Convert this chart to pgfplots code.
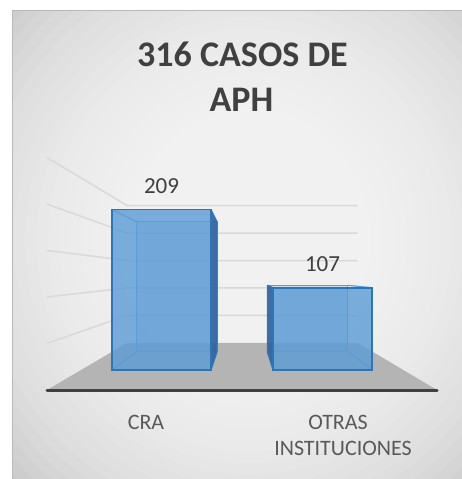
\documentclass[border=0pt]{standalone}
\usepackage{pgfplots}
\pgfplotsset{compat=1.18}
\usepackage{pgfplotstable}
\usepackage{fontspec}
\setmainfont{Carlito}
\definecolor{titlegray}{RGB}{64,64,64}
\definecolor{labgray}{RGB}{89,89,89}
\definecolor{barfill}{RGB}{91,155,213}
\definecolor{baredge}{RGB}{46,117,182}
\definecolor{barside}{RGB}{47,96,156}
\definecolor{backedge}{RGB}{95,158,218}
\definecolor{floorgray}{RGB}{180,180,180}
\definecolor{gridgray}{RGB}{217,217,217}
\definecolor{edgedark}{RGB}{64,64,64}
\definecolor{framegray}{RGB}{185,185,185}
\definecolor{bgbase}{RGB}{196,196,196}

% data: x = bar centre (front plane), v = value
\pgfplotstableread{
x v
161.5 209
322.5 107
}\bars
\pgfplotstablegetelem{0}{v}\of\bars \let\va\pgfplotsretval
\pgfplotstablegetelem{1}{v}\of\bars \let\vb\pgfplotsretval

% perspective plane: depth scale #1
\pgfplotsset{
  plane/.code={%
    \pgfmathsetmacro\pS{#1}%
    \pgfmathsetmacro\pXa{243-243/\pS}%
    \pgfmathsetmacro\pXb{243+219/\pS}%
    \pgfmathsetmacro\pYa{123.6-204/(0.766*\pS)}%
    \pgfmathsetmacro\pYb{123.6+275/(0.766*\pS)}%
    \pgfmathsetmacro\pUy{0.766*\pS}%
    \edef\pTmp{\noexpand\pgfplotsset{x=\pS bp,y=\pUy bp,xmin=\pXa,xmax=\pXb,ymin=\pYa,ymax=\pYb}}%
    \pTmp
  },
  planeaxis/.style={hide axis, enlargelimits=false, at={(0,0)}, anchor=south west, clip=false, plane=#1},
}

\begin{document}
\begin{tikzpicture}[x=1bp,y=1bp]
\useasboundingbox (0,0) rectangle (462,479);
\begin{scope}[x=1bp,y=-1bp,yshift=479bp]
  \begin{scope}
    \clip (12,10) rectangle (462,479);
    \fill[bgbase] (12,10) rectangle (462,479);
    \foreach \r in {0,...,19}{
      \fill[white, opacity=0.09] (250,240) ellipse ({340-11.5*\r} and {350-11.5*\r});
    }
  \end{scope}
  \draw[framegray, line width=1.5bp] (12.5,479) -- (12.5,10.5) -- (462,10.5);
  % walls
  \foreach \v in {50,100,...,250}{
    \draw[gridgray, line width=1.5bp] (47,{275+0.929*(123.6-\v)}) -- (127.3,{275+0.5486*(123.6-\v)}) -- (357.5,{275+0.5486*(123.6-\v)});
  }
  % floor
  \fill[floorgray] (47,390) -- (127.3,342.8) -- (357.5,342.8) -- (437,390) -- cycle;
  \draw[edgedark, line width=3bp, line cap=round] (47,390.5) -- (437,390.5);
  % title and labels
  \node[font=\bfseries\fontsize{36bp}{45bp}\selectfont, text=titlegray, anchor=base] at (242.5,66.7) {316 CASOS DE};
  \node[font=\bfseries\fontsize{36bp}{45bp}\selectfont, text=titlegray, anchor=base] at (241.5,111.7) {APH};
  \node[font=\fontsize{22bp}{26bp}\selectfont, text=labgray, anchor=base] at (146,430) {CRA};
  \node[font=\fontsize{22bp}{26bp}\selectfont, text=labgray, anchor=base] at (338,430) {OTRAS};
  \node[font=\fontsize{22bp}{26bp}\selectfont, text=labgray, anchor=base] at (343,456) {INSTITUCIONES};
\end{scope}

% back faces of the bars
\begin{axis}[planeaxis=0.812]
  \addplot[ybar, bar width=99, bar shift=0pt, draw=backedge, line width=1.2bp, fill=barfill, fill opacity=0.25] table[x=x,y=v]{\bars};
  \coordinate (b1tl) at (axis cs:112,\va);
  \coordinate (b1bl) at (axis cs:112,0);
  \coordinate (b1tr) at (axis cs:211,\va);
  \coordinate (b1br) at (axis cs:211,0);
  \coordinate (b2tl) at (axis cs:273,\vb);
  \coordinate (b2bl) at (axis cs:273,0);
  \coordinate (b2tr) at (axis cs:372,\vb);
  \coordinate (b2br) at (axis cs:372,0);
\end{axis}

% front faces
\begin{axis}[planeaxis=1]
  \fill[barside, fill opacity=0.9] (axis cs:211,0) -- (axis cs:211,\va) -- (b1tr) -- (b1br) -- cycle;
  \fill[barside, fill opacity=0.9] (axis cs:273,0) -- (axis cs:273,\vb) -- (b2tl) -- (b2bl) -- cycle;
  \draw[backedge, line width=1.2bp] (axis cs:112,\va) -- (b1tl) (axis cs:112,0) -- (b1bl)
      (axis cs:372,\vb) -- (b2tr) (axis cs:372,0) -- (b2br);
  \draw[baredge, line width=1.2bp, line join=round] (axis cs:211,0) -- (axis cs:211,\va) -- (b1tr) -- (b1br) -- cycle
      (axis cs:273,0) -- (axis cs:273,\vb) -- (b2tl) -- (b2bl) -- cycle;
  \addplot[ybar, bar width=99, bar shift=0pt, fill=barfill, fill opacity=0.8, draw=baredge, line width=1.8bp,
    nodes near coords={\pgfmathprintnumber[assume math mode=true]{\pgfplotspointmeta}},
    every node near coord/.append style={text=titlegray, font=\fontsize{23bp}{27bp}\selectfont, anchor=base, yshift=16bp, fill opacity=1, text opacity=1}]
    table[x=x,y=v]{\bars};
\end{axis}
\end{tikzpicture}
\end{document}
